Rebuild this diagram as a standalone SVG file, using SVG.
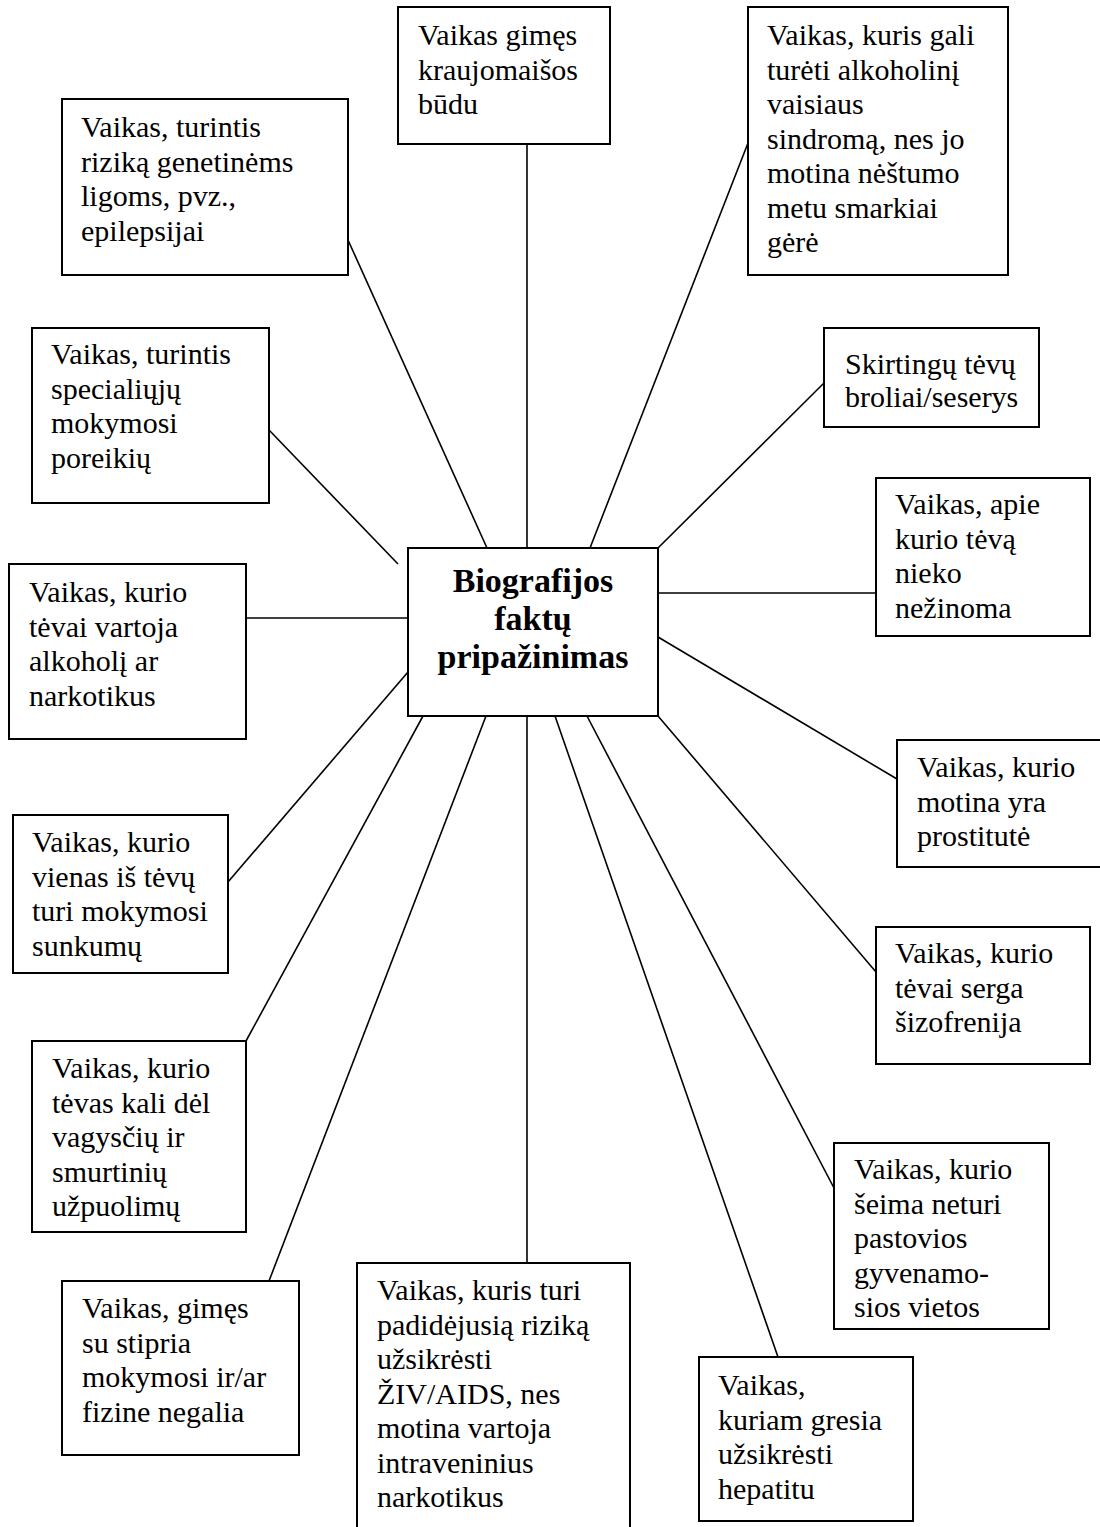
<svg xmlns="http://www.w3.org/2000/svg" width="1100" height="1527" viewBox="0 0 1100 1527">
  <style>
    .box { fill: #ffffff; stroke: #000000; stroke-width: 2; }
    .lbl { font-size: 30px; fill: #000000; }
    .title { font-size: 34px; font-weight: bold; fill: #000000; text-anchor: middle; }
    .link { stroke: #000000; stroke-width: 1.6; fill: none; }
  </style>
  <rect x="0" y="0" width="1100" height="1527" fill="#ffffff"/>

  <!-- spokes from the central box -->
  <g id="connectors">
    <line class="link" x1="527" y1="548" x2="527" y2="144"/>
    <line class="link" x1="487" y1="548" x2="348" y2="240"/>
    <line class="link" x1="590" y1="548" x2="748" y2="143"/>
    <line class="link" x1="658" y1="548" x2="824" y2="383"/>
    <line class="link" x1="398" y1="564" x2="269" y2="430"/>
    <line class="link" x1="246" y1="618" x2="408" y2="618"/>
    <line class="link" x1="658" y1="593" x2="876" y2="593"/>
    <line class="link" x1="658" y1="637" x2="897" y2="779"/>
    <line class="link" x1="408" y1="672" x2="228" y2="882"/>
    <line class="link" x1="658" y1="716" x2="876" y2="972"/>
    <line class="link" x1="423" y1="716" x2="246" y2="1041"/>
    <line class="link" x1="587" y1="716" x2="834" y2="1188"/>
    <line class="link" x1="486" y1="716" x2="269" y2="1281"/>
    <line class="link" x1="527" y1="716" x2="527" y2="1263"/>
    <line class="link" x1="555" y1="716" x2="778" y2="1357"/>
  </g>

  <g font-family="'Liberation Serif', 'DejaVu Serif', serif">
  <g id="center">
    <rect class="box" x="408" y="548" width="250" height="168"/>
    <text class="title" x="533" y="592">Biografijos</text>
    <text class="title" x="533" y="630">faktų</text>
    <text class="title" x="533" y="668">pripažinimas</text>
  </g>

  <g id="n-kraujomaisa">
    <rect class="box" x="398" y="7" width="212" height="137"/>
    <text class="lbl" x="418" y="45">Vaikas gimęs</text>
    <text class="lbl" x="418" y="79.5">kraujomaišos</text>
    <text class="lbl" x="418" y="114">būdu</text>
  </g>

  <g id="n-genetines">
    <rect class="box" x="62" y="99" width="286" height="176"/>
    <text class="lbl" x="81" y="137">Vaikas, turintis</text>
    <text class="lbl" x="81" y="171.5">riziką genetinėms</text>
    <text class="lbl" x="81" y="206">ligoms, pvz.,</text>
    <text class="lbl" x="81" y="240.5">epilepsijai</text>
  </g>

  <g id="n-alkoholinis-sindromas">
    <rect class="box" x="748" y="7" width="260" height="268"/>
    <text class="lbl" x="767" y="45">Vaikas, kuris gali</text>
    <text class="lbl" x="767" y="79.5">turėti alkoholinį</text>
    <text class="lbl" x="767" y="114">vaisiaus</text>
    <text class="lbl" x="767" y="148.5">sindromą, nes jo</text>
    <text class="lbl" x="767" y="183">motina nėštumo</text>
    <text class="lbl" x="767" y="217.5">metu smarkiai</text>
    <text class="lbl" x="767" y="252">gėrė</text>
  </g>

  <g id="n-broliai">
    <rect class="box" x="824" y="328" width="215" height="99"/>
    <text class="lbl" x="845" y="373.5">Skirtingų tėvų</text>
    <text class="lbl" x="845" y="407">broliai/seserys</text>
  </g>

  <g id="n-specialieji">
    <rect class="box" x="32" y="328" width="237" height="175"/>
    <text class="lbl" x="51" y="364">Vaikas, turintis</text>
    <text class="lbl" x="51" y="398.5">specialiųjų</text>
    <text class="lbl" x="51" y="433">mokymosi</text>
    <text class="lbl" x="51" y="467.5">poreikių</text>
  </g>

  <g id="n-alkoholis">
    <rect class="box" x="9" y="564" width="237" height="175"/>
    <text class="lbl" x="29" y="602">Vaikas, kurio</text>
    <text class="lbl" x="29" y="636.5">tėvai vartoja</text>
    <text class="lbl" x="29" y="671">alkoholį ar</text>
    <text class="lbl" x="29" y="705.5">narkotikus</text>
  </g>

  <g id="n-tevas-nezinomas">
    <rect class="box" x="876" y="478" width="214" height="158"/>
    <text class="lbl" x="895" y="514">Vaikas, apie</text>
    <text class="lbl" x="895" y="548.5">kurio tėvą</text>
    <text class="lbl" x="895" y="583">nieko</text>
    <text class="lbl" x="895" y="617.5">nežinoma</text>
  </g>

  <g id="n-prostitute">
    <rect class="box" x="897" y="740" width="210" height="127"/>
    <text class="lbl" x="917" y="777">Vaikas, kurio</text>
    <text class="lbl" x="917" y="811.5">motina yra</text>
    <text class="lbl" x="917" y="846">prostitutė</text>
  </g>

  <g id="n-mokymosi-sunkumai">
    <rect class="box" x="13" y="815" width="215" height="158"/>
    <text class="lbl" x="32" y="852">Vaikas, kurio</text>
    <text class="lbl" x="32" y="886.5">vienas iš tėvų</text>
    <text class="lbl" x="32" y="921">turi mokymosi</text>
    <text class="lbl" x="32" y="955.5">sunkumų</text>
  </g>

  <g id="n-sizofrenija">
    <rect class="box" x="876" y="927" width="214" height="137"/>
    <text class="lbl" x="895" y="963">Vaikas, kurio</text>
    <text class="lbl" x="895" y="997.5">tėvai serga</text>
    <text class="lbl" x="895" y="1032">šizofrenija</text>
  </g>

  <g id="n-tevas-kali">
    <rect class="box" x="32" y="1041" width="214" height="191"/>
    <text class="lbl" x="52" y="1078">Vaikas, kurio</text>
    <text class="lbl" x="52" y="1112.5">tėvas kali dėl</text>
    <text class="lbl" x="52" y="1147">vagysčių ir</text>
    <text class="lbl" x="52" y="1181.5">smurtinių</text>
    <text class="lbl" x="52" y="1216">užpuolimų</text>
  </g>

  <g id="n-gyvenamoji-vieta">
    <rect class="box" x="834" y="1143" width="215" height="186"/>
    <text class="lbl" x="854" y="1179">Vaikas, kurio</text>
    <text class="lbl" x="854" y="1213.5">šeima neturi</text>
    <text class="lbl" x="854" y="1248">pastovios</text>
    <text class="lbl" x="854" y="1282.5">gyvenamo-</text>
    <text class="lbl" x="854" y="1317">sios vietos</text>
  </g>

  <g id="n-negalia">
    <rect class="box" x="62" y="1281" width="237" height="174"/>
    <text class="lbl" x="82" y="1318">Vaikas, gimęs</text>
    <text class="lbl" x="82" y="1352.5">su stipria</text>
    <text class="lbl" x="82" y="1387">mokymosi ir/ar</text>
    <text class="lbl" x="82" y="1421.5">fizine negalia</text>
  </g>

  <g id="n-ziv">
    <rect class="box" x="357" y="1263" width="273" height="270"/>
    <text class="lbl" x="377" y="1300">Vaikas, kuris turi</text>
    <text class="lbl" x="377" y="1334.5">padidėjusią riziką</text>
    <text class="lbl" x="377" y="1369">užsikrėsti</text>
    <text class="lbl" x="377" y="1403.5">ŽIV/AIDS, nes</text>
    <text class="lbl" x="377" y="1438">motina vartoja</text>
    <text class="lbl" x="377" y="1472.5">intraveninius</text>
    <text class="lbl" x="377" y="1507">narkotikus</text>
  </g>

  <g id="n-hepatitas">
    <rect class="box" x="699" y="1357" width="214" height="164"/>
    <text class="lbl" x="718" y="1395">Vaikas,</text>
    <text class="lbl" x="718" y="1429.5">kuriam gresia</text>
    <text class="lbl" x="718" y="1464">užsikrėsti</text>
    <text class="lbl" x="718" y="1498.5">hepatitu</text>
  </g>
  </g>
</svg>
